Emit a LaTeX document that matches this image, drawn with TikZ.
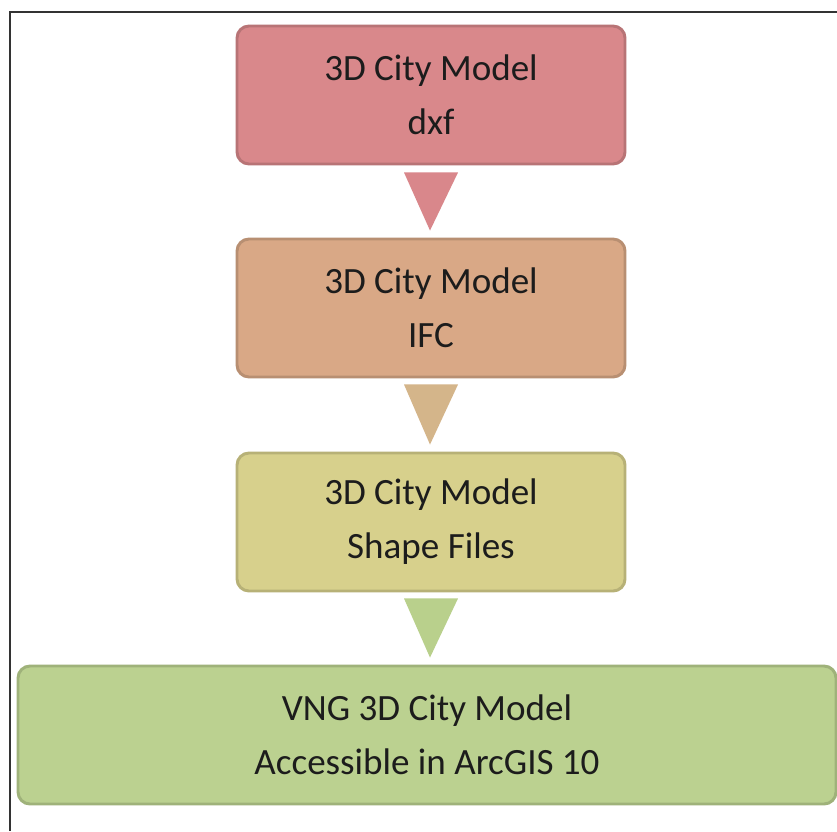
\documentclass[tikz,border=0pt]{standalone}
\usepackage{fontspec}
\setmainfont{Carlito}
\usetikzlibrary{calc}
\definecolor{cA}{HTML}{D9888B}
\definecolor{cB}{HTML}{D9A886}
\definecolor{cC}{HTML}{D7D08C}
\definecolor{cD}{HTML}{BBD190}
\definecolor{tA}{HTML}{D9878B}
\definecolor{tB}{HTML}{D4B58A}
\definecolor{tC}{HTML}{B9D08C}
\definecolor{txt}{HTML}{1C1C1C}
\definecolor{frame}{HTML}{333333}
\tikzset{
  box/.style={rounded corners=9pt, fill=#1, draw=#1!85!black, line width=2.2pt,
    minimum width=291pt, minimum height=103.5pt, align=center, text=txt,
    font=\fontsize{27.8}{40.5}\selectfont, inner sep=0pt},
  wide/.style={minimum width=613.5pt},
  tri/.style={fill=#1}
}
\begin{document}
\begin{tikzpicture}[x=0.75pt,y=-0.75pt]
\useasboundingbox (0,0) rectangle (837,831);
\fill[white] (0,0) rectangle (837,831);
\draw[frame, line width=1.5pt] (10,831) -- (10,12.5) -- (837,12.5);
\node[box=cA] (b1) at (431,95) {3D City Model\\dxf};
\node[box=cB] (b2) at (431,308) {3D City Model\\IFC};
\node[box=cC] (b3) at (431,522) {3D City Model\\Shape Files};
\node[box=cD, wide] (b4) at (427,735) {VNG 3D City Model\\Accessible in ArcGIS 10};
\fill[tri=tA] ($(b1.south)+(-27,7)$) -- ($(b1.south)+(27,7)$) -- ($(b1.south |- b2.north)+(-1,-7)$) -- cycle;
\fill[tri=tB] ($(b2.south)+(-27,6)$) -- ($(b2.south)+(27,6)$) -- ($(b2.south |- b3.north)+(-1,-7)$) -- cycle;
\fill[tri=tC] ($(b3.south)+(-27,6)$) -- ($(b3.south)+(27,6)$) -- ($(b3.south |- b4.north)+(-1,-7)$) -- cycle;
\end{tikzpicture}
\end{document}
